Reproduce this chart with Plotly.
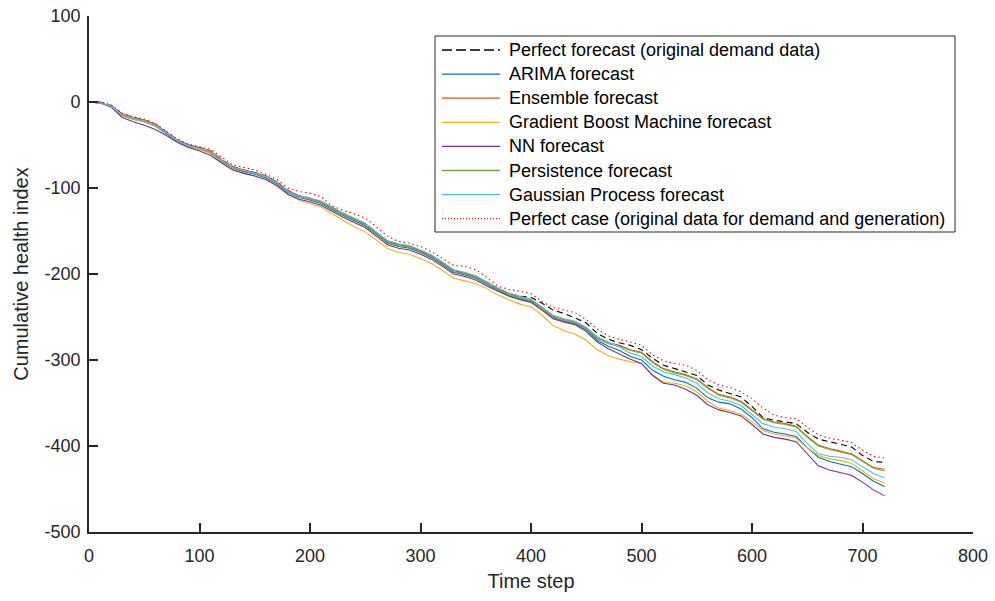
import plotly.graph_objects as go

# Time steps (sampled every 10 steps over the 720-step horizon)
time_step = list(range(0, 721, 10))

# Cumulative health index per forecasting method
perfect_forecast = [
    0, 0, -4, -14, -18, -21, -26, -35, -44, -50,
    -53, -57, -67, -75, -79, -82, -86, -93, -103, -109,
    -112, -116, -123, -130, -136, -142, -152, -162, -166, -168,
    -173, -179, -187, -196, -199, -203, -210, -217, -223, -226,
    -227, -234, -242, -246, -251, -257, -269, -276, -280, -283,
    -288, -298, -306, -310, -314, -318, -329, -335, -339, -343,
    -354, -367, -370, -372, -374, -384, -392, -395, -398, -401,
    -411, -418, -419,
]
arima = [
    0, -1, -5, -16, -20, -23, -28, -37, -46, -52,
    -55, -59, -69, -77, -81, -84, -88, -95, -105, -111,
    -114, -118, -125, -132, -138, -144, -154, -164, -168, -170,
    -175, -181, -189, -198, -201, -205, -212, -219, -225, -229,
    -232, -241, -251, -255, -258, -265, -277, -284, -289, -296,
    -300, -312, -319, -323, -326, -333, -344, -349, -351, -357,
    -367, -380, -384, -386, -389, -402, -413, -418, -421, -424,
    -432, -441, -447,
]
ensemble = [
    0, -1, -5, -14, -18, -21, -26, -35, -44, -50,
    -53, -57, -67, -75, -79, -82, -86, -93, -103, -109,
    -112, -116, -123, -130, -136, -142, -152, -162, -166, -168,
    -173, -179, -187, -196, -199, -203, -210, -217, -223, -227,
    -230, -239, -249, -253, -256, -263, -274, -280, -283, -288,
    -291, -302, -310, -314, -317, -322, -332, -340, -343, -348,
    -358, -368, -372, -374, -377, -389, -399, -403, -406, -409,
    -417, -425, -427,
]
gbm = [
    0, -1, -5, -16, -20, -23, -28, -36, -45, -52,
    -55, -60, -70, -78, -83, -86, -90, -98, -108, -114,
    -118, -122, -130, -138, -145, -151, -160, -170, -175, -177,
    -182, -188, -196, -205, -208, -211, -217, -224, -230, -235,
    -238, -248, -260, -266, -270, -277, -288, -295, -299, -302,
    -304, -317, -326, -327, -330, -337, -348, -356, -359, -363,
    -372, -382, -386, -388, -391, -402, -411, -415, -417, -420,
    -429, -438, -443,
]
nn = [
    0, -1, -6, -18, -23, -27, -32, -39, -47, -53,
    -57, -62, -71, -79, -83, -86, -90, -97, -107, -113,
    -116, -120, -127, -134, -140, -146, -156, -166, -170, -172,
    -177, -183, -191, -200, -203, -207, -214, -220, -226, -230,
    -233, -242, -252, -256, -259, -267, -279, -287, -293, -299,
    -304, -318, -327, -329, -334, -341, -352, -358, -361, -365,
    -375, -386, -390, -392, -395, -409, -423, -428, -431, -434,
    -442, -451, -458,
]
persistence = [
    0, -1, -5, -15, -19, -22, -27, -36, -45, -51,
    -54, -58, -68, -76, -80, -83, -87, -94, -104, -110,
    -113, -117, -124, -131, -137, -143, -153, -163, -167, -169,
    -174, -180, -188, -197, -200, -204, -211, -218, -224, -228,
    -231, -240, -250, -254, -257, -264, -275, -281, -284, -289,
    -292, -303, -311, -315, -318, -323, -333, -341, -344, -349,
    -359, -369, -373, -375, -378, -390, -400, -404, -407, -410,
    -418, -426, -429,
]
gaussian_process = [
    0, -1, -5, -15, -19, -22, -27, -36, -45, -51,
    -54, -58, -68, -76, -80, -83, -87, -94, -104, -110,
    -112, -115, -122, -129, -135, -141, -151, -161, -165, -167,
    -172, -178, -186, -195, -198, -202, -209, -216, -222, -226,
    -229, -238, -248, -252, -255, -262, -273, -279, -285, -292,
    -296, -307, -314, -317, -321, -327, -338, -345, -348, -353,
    -363, -374, -378, -380, -383, -397, -409, -412, -413, -416,
    -424, -432, -437,
]
perfect_case = [
    0, 0, -3, -13, -17, -20, -25, -34, -43, -49,
    -52, -55, -64, -73, -76, -79, -84, -90, -100, -104,
    -106, -110, -121, -126, -130, -135, -145, -156, -162, -164,
    -168, -174, -182, -190, -191, -195, -204, -214, -218, -220,
    -223, -232, -239, -242, -245, -253, -264, -272, -276, -279,
    -283, -294, -301, -304, -306, -312, -323, -329, -332, -337,
    -345, -356, -364, -367, -368, -378, -387, -391, -393, -396,
    -405, -412, -414,
]

series_names = [
    "Perfect forecast (original demand data)",
    "ARIMA forecast",
    "Ensemble forecast",
    "Gradient Boost Machine forecast",
    "NN forecast",
    "Persistence forecast",
    "Gaussian Process forecast",
    "Perfect case (original data for demand and generation)",
]

x_tick_vals = [0, 100, 200, 300, 400, 500, 600, 700, 800]
x_tick_text = ["0", "100", "200", "300", "400", "500", "600", "700", "800"]
y_tick_vals = [-500, -400, -300, -200, -100, 0, 100]
y_tick_text = ["-500", "-400", "-300", "-200", "-100", "0", "100"]

series_values = [perfect_forecast, arima, ensemble, gbm, nn,
                 persistence, gaussian_process, perfect_case]
styles = [
    dict(color="#000000", dash="6px,4px", key_dash="10px,4px"),
    dict(color="#0072BD", dash="solid", key_dash="solid"),
    dict(color="#D95319", dash="solid", key_dash="solid"),
    dict(color="#EDB120", dash="solid", key_dash="solid"),
    dict(color="#7E2F8E", dash="solid", key_dash="solid"),
    dict(color="#77AC30", dash="solid", key_dash="solid"),
    dict(color="#4DBEEE", dash="solid", key_dash="solid"),
    dict(color="#FF0000", dash="1.5px,3px", key_dash="1px,2px"),
]

FONT = "Liberation Sans, Arial, sans-serif"
AXIS_COLOR = "#262626"

# Plot area geometry in pixels (used to place the boxed legend)
W, H = 995, 601
ML, MR, MT, MB = 89, 22, 16, 69
PW, PH = W - ML - MR, H - MT - MB


def px_x(px):
    return (px - ML) / PW


def px_y(py):
    return (H - MB - py) / PH


fig = go.Figure()
for name, vals, st in zip(series_names, series_values, styles):
    fig.add_trace(go.Scatter(
        x=time_step, y=vals, name=name, mode="lines", showlegend=False,
        line=dict(color=st["color"], dash=st["dash"], width=1.1),
    ))

# Boxed legend: frame, line samples and labels
shapes = [dict(
    type="rect", xref="paper", yref="paper",
    x0=px_x(435), x1=px_x(955), y0=px_y(232), y1=px_y(36),
    line=dict(color=AXIS_COLOR, width=1), fillcolor="white", layer="above",
)]
annotations = []
row_y0, row_dy = 50, 24.1
for i, (name, st) in enumerate(zip(series_names, styles)):
    yy = px_y(row_y0 + i * row_dy)
    shapes.append(dict(
        type="line", xref="paper", yref="paper",
        x0=px_x(442), x1=px_x(500), y0=yy, y1=yy,
        line=dict(color=st["color"], dash=st["key_dash"], width=1.3), layer="above",
    ))
    annotations.append(dict(
        xref="paper", yref="paper", x=px_x(507), y=yy,
        xanchor="left", yanchor="middle", showarrow=False, text=name,
        font=dict(family=FONT, size=18, color="#000000"),
    ))

fig.update_layout(
    width=W, height=H,
    margin=dict(l=ML, r=MR, t=MT, b=MB),
    paper_bgcolor="white", plot_bgcolor="white",
    font=dict(family=FONT, size=18, color=AXIS_COLOR),
    showlegend=False,
    shapes=shapes, annotations=annotations,
    xaxis=dict(
        range=[0, 800], tickvals=x_tick_vals, ticktext=x_tick_text,
        ticks="inside", ticklen=9, tickwidth=1.8, tickcolor=AXIS_COLOR,
        showline=True, linewidth=1.8, linecolor=AXIS_COLOR,
        showgrid=False, zeroline=False, automargin=False,
        ticklabelstandoff=6,
        tickfont=dict(size=18, color=AXIS_COLOR),
        title=dict(text="Time step", font=dict(size=20, color=AXIS_COLOR), standoff=9),
    ),
    yaxis=dict(
        range=[-500, 100], tickvals=y_tick_vals, ticktext=y_tick_text,
        ticks="inside", ticklen=9, tickwidth=1.8, tickcolor=AXIS_COLOR,
        showline=True, linewidth=1.8, linecolor=AXIS_COLOR,
        showgrid=False, zeroline=False, automargin=False,
        ticklabelstandoff=3,
        tickfont=dict(size=18, color=AXIS_COLOR),
        title=dict(text="Cumulative health index", font=dict(size=20, color=AXIS_COLOR), standoff=10),
    ),
)

fig.write_html("out.html")
